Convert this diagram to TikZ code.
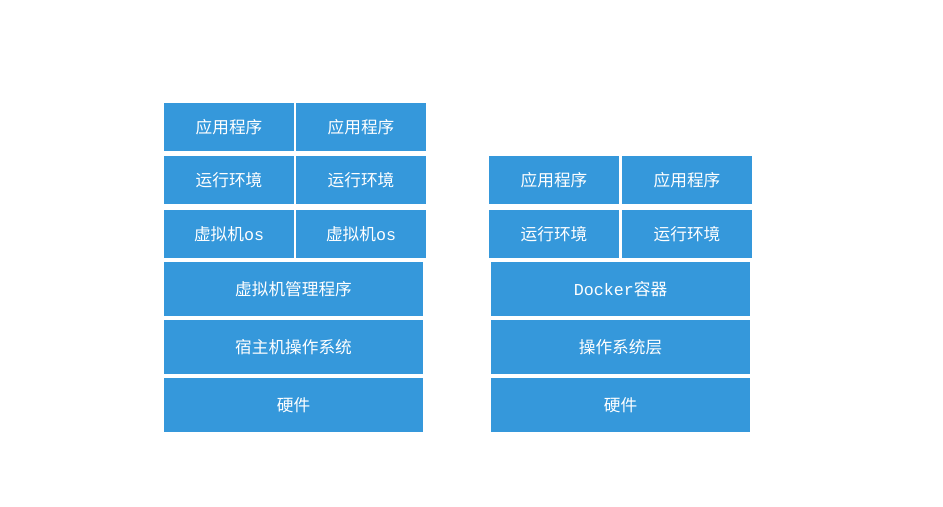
\documentclass[tikz,border=0pt]{standalone}
\usepackage{fontspec}
\setmainfont{Noto Sans CJK SC}
\newfontfamily\latinmono{Liberation Mono}
\usetikzlibrary{positioning}
\definecolor{layerblue}{HTML}{3598DB}
\tikzset{
  layer/.style={fill=layerblue, text=white, inner sep=0pt, outer sep=0pt, font=\fontsize{12.5pt}{15pt}\selectfont},
  smallbox/.style={layer, minimum width=97.5pt, minimum height=36pt},
  bigbox/.style={layer, minimum width=194.25pt, minimum height=40.5pt}
}

\begin{document}
\begin{tikzpicture}[x=0.75pt, y=-0.75pt, node distance=3pt and 1.5pt]
        \useasboundingbox (0,0) rectangle (943,507);

        % 虚拟机 一侧
        \node[smallbox, anchor=north west] (vapp1) at (164,103) {应用程序};
        \node[smallbox, right=of vapp1] (vapp2) {应用程序};
        \node[smallbox, below=3.75pt of vapp1] (venv1) {运行环境};
        \node[smallbox, right=of venv1] (venv2) {运行环境};
        \node[smallbox, below=4.5pt of venv1] (vos1) {虚拟机{\latinmono os}};
        \node[smallbox, right=of vos1] (vos2) {虚拟机{\latinmono os}};
        \node[bigbox, below=of vos1.south west, anchor=north west] (hyper) {虚拟机管理程序};
        \node[bigbox, below=of hyper] (hostos) {宿主机操作系统};
        \node[bigbox, below=of hostos] (vhw) {硬件};

        % Docker 一侧
        \node[smallbox, anchor=north west] (dapp1) at (489,156) {应用程序};
        \node[smallbox, right=2.25pt of dapp1] (dapp2) {应用程序};
        \node[smallbox, below=4.5pt of dapp1] (denv1) {运行环境};
        \node[smallbox, right=2.25pt of denv1] (denv2) {运行环境};
        \node[bigbox, below=of denv1.south west, anchor=north west, xshift=1.5pt] (docker) {{\latinmono Docker}容器};
        \node[bigbox, below=of docker] (dos) {操作系统层};
        \node[bigbox, below=of dos] (dhw) {硬件};
    \end{tikzpicture}
\end{document}
